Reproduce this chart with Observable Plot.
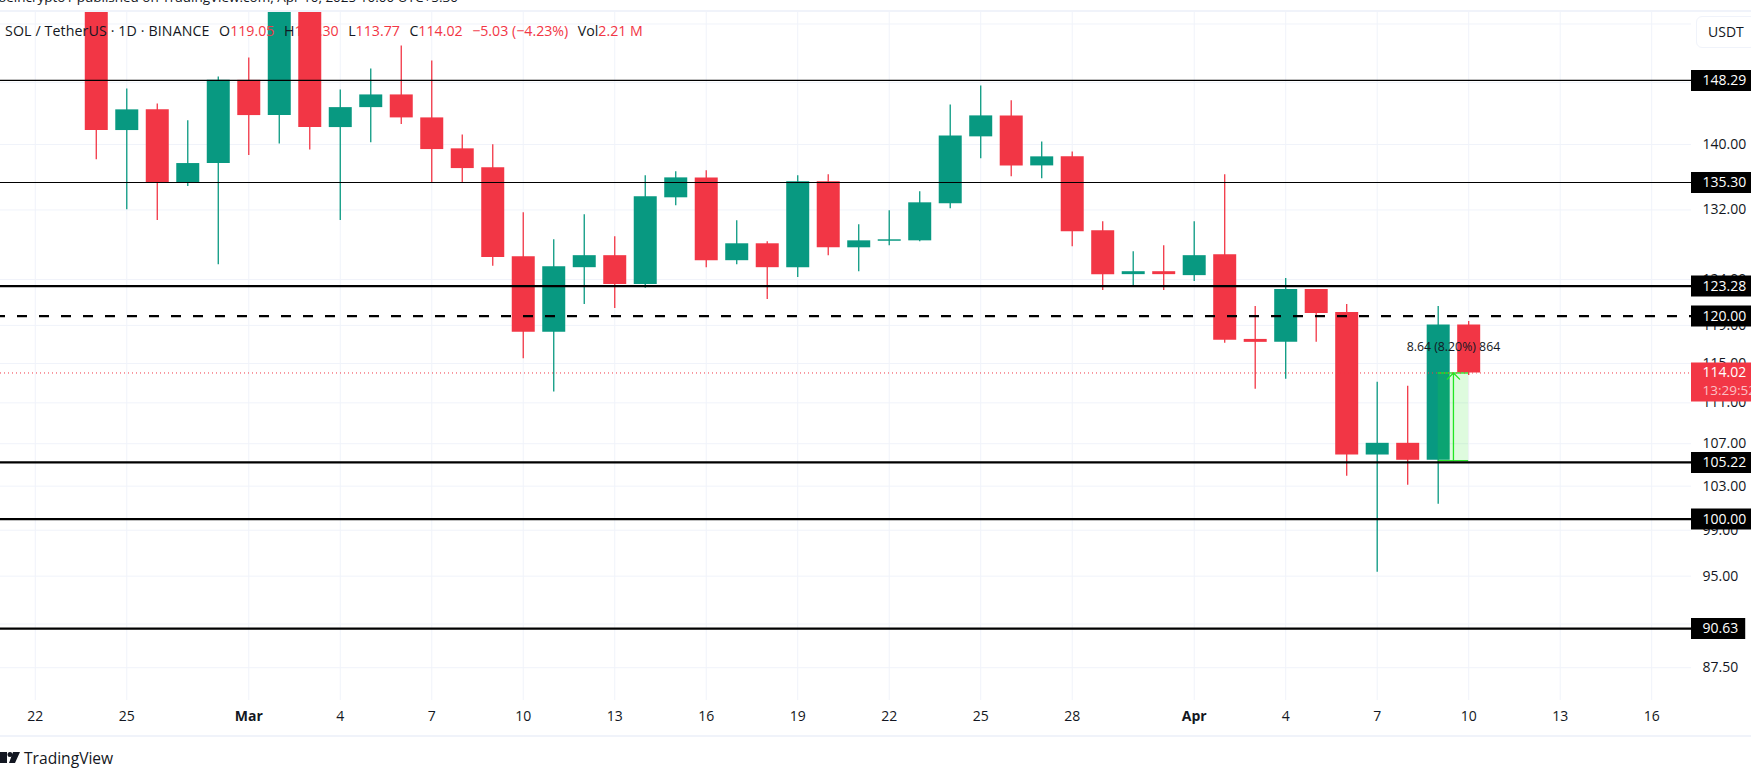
<!DOCTYPE html>
<html>
<head>
<meta charset="utf-8">
<script src="https://cdn.jsdelivr.net/npm/d3@7"></script>
<script src="https://cdn.jsdelivr.net/npm/@observablehq/plot@0.6"></script>
<style>
  body { margin: 0; background: #fff; overflow: hidden; }
  #wrap { position: relative; width: 1751px; height: 780px; overflow: hidden; font-family: "Open Sans", sans-serif; color: #131722; }
  #wrap svg { display: block; }
  .over { position: absolute; white-space: pre; }
  .red { color: #f23645; }
  #published { left: -2px; top: -12px; font-size: 13.5px; }
  #legend { left: 5px; top: 21px; font-size: 14.2px; line-height: 20px; }
  #legend b { font-weight: normal; margin-left: 9.5px; }
  #symbol { letter-spacing: 0.12px; }
  .border { position: absolute; left: 0; width: 1751px; height: 2px; background: #f0f3fa; }
  #usdt { left: 1696px; top: 16px; width: 60px; height: 32px; box-sizing: border-box; border: 1px solid #f0f3fa; border-radius: 6px; background: #fff; font-size: 14px; line-height: 30px; padding-left: 11px; }
  #brand { left: 24px; top: 746px; font-size: 15.6px; line-height: 24px; }
  #logo { position: absolute; left: 0; top: 751px; }
</style>
</head>
<body>
<div id="wrap">
  <div id="chart"></div>
  <div class="border" style="top:10px"></div>
  <div class="border" style="top:735px"></div>
  <div class="over" id="published">beincrypto1 published on TradingView.com, Apr 10, 2025 10:00 UTC+5:30</div>
  <div class="over" id="legend"><span id="symbol">SOL / TetherUS · 1D · BINANCE</span><b>O</b><span class="red">119.05</span><b>H</b><span class="red">120.30</span><b>L</b><span class="red">113.77</span><b>C</b><span class="red">114.02</span><b></b><span class="red">−5.03 (−4.23%)</span><b>Vol</b><span class="red">2.21 M</span></div>
  <div class="over" id="usdt">USDT</div>
  <svg id="logo" width="20" height="14"><path d="M0 1h7v11H0zM13 1h7l-5 11H9z" fill="#131722"/><circle cx="10" cy="3.5" r="2.5" fill="#131722"/></svg>
  <div class="over" id="brand">TradingView</div>
</div>
<script>
// daily candles
const dates = ['2025-02-24','2025-02-25','2025-02-26','2025-02-27','2025-02-28','2025-03-01','2025-03-02','2025-03-03','2025-03-04','2025-03-05','2025-03-06','2025-03-07','2025-03-08','2025-03-09','2025-03-10','2025-03-11','2025-03-12','2025-03-13','2025-03-14','2025-03-15','2025-03-16','2025-03-17','2025-03-18','2025-03-19','2025-03-20','2025-03-21','2025-03-22','2025-03-23','2025-03-24','2025-03-25','2025-03-26','2025-03-27','2025-03-28','2025-03-29','2025-03-30','2025-03-31','2025-04-01','2025-04-02','2025-04-03','2025-04-04','2025-04-05','2025-04-06','2025-04-07','2025-04-08','2025-04-09','2025-04-10']
const opens = [160,141.76,144.42,135.29,137.62,148.3,143.68,160,142.14,144.71,146.37,143.38,139.45,137.09,126.57,118.28,125.33,126.69,123.45,133.45,135.86,126.12,128.05,125.33,135.38,127.59,128.34,128.39,132.73,140.96,143.64,137.33,138.45,129.55,124.55,124.88,124.44,126.8,117.51,117.2,122.9,120.39,105.92,107.04,105.42,119.05]
const closes = [141.76,144.42,135.29,137.62,148.3,143.68,160,142.14,144.71,146.37,143.38,139.36,137,126.49,118.28,125.45,126.69,123.45,133.57,135.86,126.12,128.05,125.33,135.38,127.59,128.39,128.51,132.85,141.08,143.64,137.33,138.45,129.43,124.55,124.88,124.55,126.69,117.41,117.2,122.9,120.28,105.92,107.04,105.42,119.05,114.02]
const highs = [160,147.16,145.19,143,148.76,151.31,160,160,147.03,149.83,152.95,150.91,141.21,139.95,131.66,128.51,131.42,128.85,136.11,136.6,136.72,130.72,128.28,136.11,136.23,130.25,131.9,134.17,145.06,147.56,145.59,140.32,139.07,130.6,127.14,127.82,130.6,136.23,121.04,124.11,122.9,121.26,113.07,112.66,121.04,119.42]
const lows = [138.08,132.02,130.75,134.81,125.67,138.61,140.07,139.32,130.75,140.2,142.52,135.17,135.29,125.48,115.49,112.09,121.26,120.82,123.04,132.49,125.33,125.67,121.8,124.22,126.69,124.88,127.82,128.28,132.14,138.2,135.99,135.74,127.71,122.79,123.12,122.79,123.78,117.1,112.36,113.37,117.2,103.92,95.33,103.08,101.33,113.77]

const candles = dates.map((d, i) => ({date: new Date(d), open: opens[i], close: closes[i], high: highs[i], low: lows[i]}))

// horizontal levels drawn on the chart
const thinLevels = [148.29, 135.30]
const thickLevels = [123.28, 105.22, 100.00, 90.63]
const dashedLevels = [120.00]
const lastPrice = 114.02

// price axis
const priceTicks = [87.5, 91, 95, 99, 103, 107, 111, 115, 119, 124, 132, 140, 148, 156]
const priceDomain = [84.96, 157.76]

// time axis
const dayTicks = ['2025-02-22','2025-02-25','2025-03-04','2025-03-07','2025-03-10','2025-03-13','2025-03-16','2025-03-19','2025-03-22','2025-03-25','2025-03-28','2025-04-04','2025-04-07','2025-04-10','2025-04-13','2025-04-16'].map(d => new Date(d))
const monthTicks = ['2025-03-01','2025-04-01'].map(d => new Date(d))
const timeDomain = [new Date('2025-02-20T20:38:00Z'), new Date('2025-04-17T07:20:00Z')]
// the price tags run to the window edge, the 90.63 one stops a little short
const labelEnd = new Date('2025-04-19T12:00:00Z')
const shortLabelEnd = new Date('2025-04-19T02:00:00Z')

// measure tool
const measure = {x1: new Date('2025-04-09'), x2: new Date('2025-04-10'), xm: new Date('2025-04-09T12:00:00Z'), y1: 105.38, y2: 114.02, labelY: 116.7}

const green = '#089981'
const red = '#f23645'
const gridColor = '#f0f3fa'
const lime = '#22e622'
const color = d => d.close >= d.open ? green : red

const chart = Plot.plot({
  width: 1751,
  height: 780,
  marginLeft: 0,
  marginRight: 60,
  marginTop: 11,
  marginBottom: 80,
  style: {fontFamily: '"Open Sans", sans-serif', fontSize: '14px', color: '#131722'},
  x: {type: 'utc', domain: timeDomain},
  y: {type: 'log', domain: priceDomain},
  marks: [
    Plot.gridX(dayTicks.concat(monthTicks), {stroke: gridColor, strokeOpacity: 1}),
    Plot.gridY(priceTicks, {stroke: gridColor, strokeOpacity: 1}),
    Plot.axisY(priceTicks.filter(t => t < 148), {anchor: 'right', label: null, tickSize: 0, tickPadding: 11, tickFormat: d => d.toFixed(2), fill: '#131722'}),
    Plot.axisX(dayTicks, {label: null, tickSize: 0, tickPadding: 11, tickFormat: d3.utcFormat('%-d'), fill: '#131722'}),
    Plot.axisX(monthTicks, {label: null, tickSize: 0, tickPadding: 11, tickFormat: d3.utcFormat('%b'), fontWeight: 'bold', fill: '#131722'}),

    // candles
    Plot.ruleX(candles, {x: 'date', y1: 'low', y2: 'high', stroke: color, strokeWidth: 1.3, clip: true}),
    Plot.ruleX(candles, {x: 'date', y1: 'open', y2: 'close', stroke: color, strokeWidth: 23, clip: true}),

    // measure tool
    Plot.rect([measure], {x1: 'x1', x2: 'x2', y1: 'y1', y2: 'y2', fill: lime, fillOpacity: 0.15}),
    Plot.ruleY([measure], {x1: 'x1', x2: 'x2', y: 'y1', stroke: lime, strokeWidth: 1.3}),
    Plot.ruleY([measure], {x1: 'x1', x2: 'x2', y: 'y2', stroke: lime, strokeWidth: 1.3}),
    Plot.arrow([measure], {x: 'xm', y1: 'y1', y2: 'y2', stroke: lime, strokeWidth: 1.3, headLength: 10, headAngle: 90}),
    Plot.text([measure], {x: 'xm', y: 'labelY', text: () => '8.64 (8.20%) 864', fill: '#131722', fontSize: 12.3}),

    // levels
    Plot.ruleY([lastPrice], {stroke: red, strokeWidth: 1, strokeDasharray: '1 3'}),
    Plot.ruleY(thinLevels, {stroke: '#000', strokeWidth: 1.2}),
    Plot.ruleY(thickLevels, {stroke: '#000', strokeWidth: 2.2}),
    Plot.ruleY(dashedLevels, {stroke: '#000', strokeWidth: 2.2, strokeDasharray: '10 12', strokeDashoffset: 5}),

    // price tags on the axis
    Plot.ruleY(thinLevels.concat(thickLevels, dashedLevels), {x1: timeDomain[1], x2: d => d === 90.63 ? shortLabelEnd : labelEnd, stroke: '#000', strokeWidth: 21}),
    Plot.text(thinLevels.concat(thickLevels, dashedLevels), {x: timeDomain[1], y: d => d, text: d => d.toFixed(2), textAnchor: 'start', dx: 11, fontSize: 14, fill: '#fff', fontWeight: 500}),
    Plot.ruleY([lastPrice], {x1: timeDomain[1], x2: labelEnd, stroke: red, strokeWidth: 39, dy: 9}),
    Plot.text([lastPrice], {x: timeDomain[1], y: d => d, text: d => d.toFixed(2), textAnchor: 'start', dx: 11, fontSize: 14, fill: '#fff', fontWeight: 500}),
    Plot.text([lastPrice], {x: timeDomain[1], y: d => d, text: () => '13:29:52', textAnchor: 'start', dx: 11, dy: 18, fontSize: 13.5, fill: '#fff', fillOpacity: 0.7})
  ]
})

document.querySelector('#chart').append(chart)
</script>
</body>
</html>
